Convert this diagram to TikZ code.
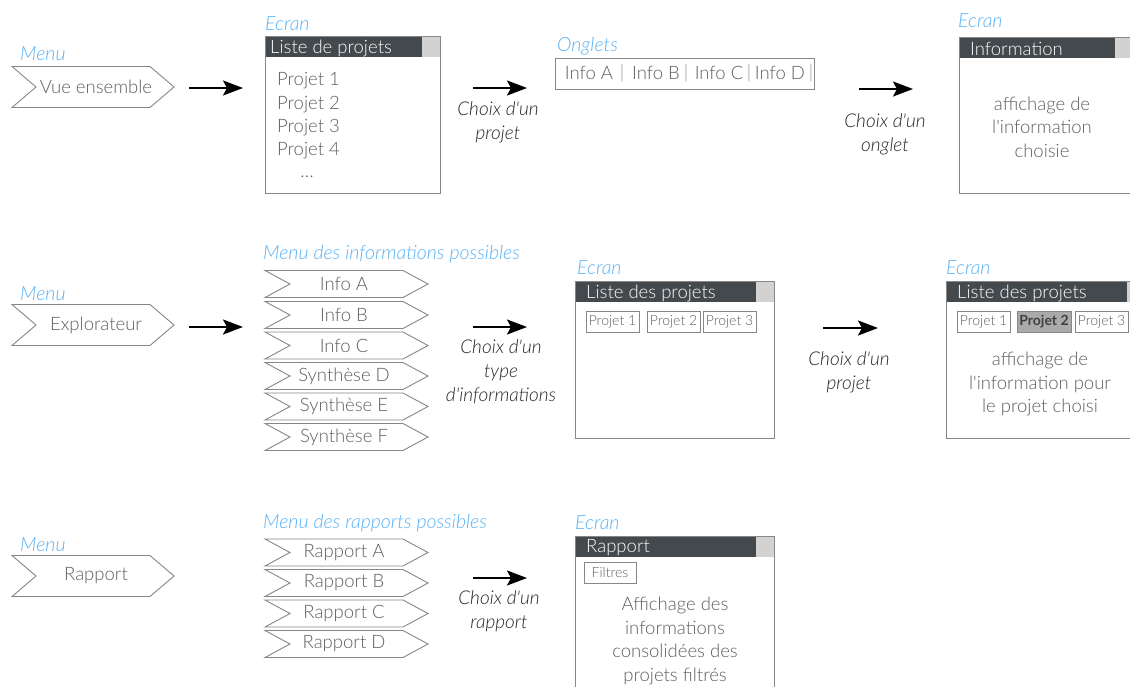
\documentclass[tikz,border=0pt]{standalone}
\usepackage{fontspec}
\setmainfont{Lato}[UprightFont={* Light},ItalicFont={* Light Italic},BoldFont={* Bold}]
\usetikzlibrary{arrows.meta}
\definecolor{bluec}{RGB}{88,178,245}
\definecolor{txtgray}{RGB}{95,95,95}
\definecolor{bordergray}{RGB}{135,135,135}
\definecolor{bardark}{RGB}{67,73,76}
\definecolor{sqgray}{RGB}{210,210,210}
\definecolor{selgray}{RGB}{170,170,170}
\newcommand\apos{\textquotesingle}
\newcommand\chevshape[6]{% left x, tip x, cy, half h, notch, tip depth
  \draw[chev] (#1,{#3-#4}) -- ({#2-#6},{#3-#4}) -- (#2,#3) -- ({#2-#6},{#3+#4}) -- (#1,{#3+#4}) -- ({#1+#5},#3) -- cycle;}
\newcommand\listitem[3]{% name, cy, text
  \chevshape{265}{428}{#2}{13.5}{25}{25}
  \node[lbl] (#1) at (344,#2) {#3};}
\newcommand\screenwin[7]{% name, x1, y1, x2, y2, title, title offset
  \fill[bardark] (#2,#3) rectangle (#4,{#3+21});
  \fill[sqgray] ({#4-18},#3) rectangle (#4,{#3+21});
  \draw[win] (#2,#3) rectangle (#4,#5);
  \node[titlelbl] (#1) at ({#2+#7},{#3+12}) {#6};}
\begin{document}
\begin{tikzpicture}[x=1pt,y=-1pt,
  lbl/.style={font=\fontsize{18.5}{23.5}\selectfont, text=txtgray, inner sep=0pt, align=center},
  bluelbl/.style={font=\fontsize{19.5}{22}\selectfont\itshape, text=bluec, inner sep=0pt, anchor=west},
  titlelbl/.style={font=\fontsize{18.5}{21}\selectfont, text=white, inner sep=0pt, anchor=west},
  choix/.style={font=\fontsize{19}{24}\selectfont\itshape, text=black!85, align=center, inner sep=0pt},
  chev/.style={draw=bordergray, line width=0.9pt, fill=white},
  win/.style={draw=bordergray, line width=1pt},
  flow/.style={-{Stealth[length=20pt,width=15pt,inset=4pt]}, line width=2.2pt},
  btn/.style={draw=bordergray, line width=0.8pt, font=\fontsize{14}{16}\selectfont, text=txtgray, minimum height=21pt, inner xsep=1pt, inner ysep=0pt},
]
\useasboundingbox (0,0) rectangle (1130,686);
\clip (0,0) rectangle (1130,686);
\fill[white] (0,0) rectangle (1130,686);

% ---------- Row 1 ----------
\node[bluelbl] (menu1) at (20,54) {Menu};
\chevshape{12}{174}{87}{20.5}{24}{24}
\node[lbl] (vue) at (96,87) {Vue ensemble};
\coordinate (a1s) at (189,88); \coordinate (a1e) at (243,88);
\draw[flow] (a1s) -- (a1e);

\node[bluelbl] (ecran1) at (265,24) {Ecran};
\screenwin{s1}{265}{36}{440}{193}{Liste de projets}{5}
\node[lbl, anchor=west] (p1) at (277,81) {Projet 1};
\node[lbl, anchor=west] (p2) at (277,105) {Projet 2};
\node[lbl, anchor=west] (p3) at (277,128) {Projet 3};
\node[lbl, anchor=west] (p4) at (277,151) {Projet 4};
\node[lbl] (pdots) at (307,177) {…};

\coordinate (a2s) at (473,88); \coordinate (a2e) at (527,88);
\draw[flow] (a2s) -- (a2e);
\node[choix] (c2) at (498,122) {Choix d\apos un\\projet};

\node[bluelbl] (onglets) at (557,46) {Onglets};
\node[draw=bordergray, line width=1pt, minimum width=259pt, minimum height=31pt, inner sep=0pt] (obox) at (684.5,73.5) {};
\node[lbl] (oa) at (589,73) {Info A};
\node[lbl, text=txtgray!70] (os1) at (622,73) {|};
\node[lbl] (ob) at (656,73) {Info B};
\node[lbl, text=txtgray!70] (os2) at (686,73) {|};
\node[lbl] (oc) at (719,73) {Info C};
\node[lbl, text=txtgray!70] (os3) at (749,73) {|};
\node[lbl] (od) at (780,73) {Info D};
\node[lbl, text=txtgray!70] (os4) at (811,73) {|};

\coordinate (a3s) at (859,89); \coordinate (a3e) at (913,89);
\draw[flow] (a3s) -- (a3e);
\node[choix] (c3) at (885,134) {Choix d\apos un\\onglet};

\node[bluelbl] (ecran2) at (958,21) {Ecran};
\screenwin{s2}{959}{37}{1133}{193}{Information}{11}
\node[lbl] (info) at (1042,127) {affichage de\\l\apos information\\choisie};

% ---------- Row 2 ----------
\node[bluelbl] (menu2) at (20,294) {Menu};
\chevshape{12}{174}{325}{20.5}{24}{24}
\node[lbl] (explo) at (96,325) {Explorateur};
\coordinate (b1s) at (189,327); \coordinate (b1e) at (243,327);
\draw[flow] (b1s) -- (b1e);

\node[bluelbl] (menuinfo) at (263,254) {Menu des informations possibles};
\listitem{ia}{284}{Info A}
\listitem{ib}{315}{Info B}
\listitem{ic}{345.5}{Info C}
\listitem{sd}{376}{Synthèse D}
\listitem{se}{406.5}{Synthèse E}
\listitem{sf}{437}{Synthèse F}

\coordinate (b2s) at (473,327); \coordinate (b2e) at (527,327);
\draw[flow] (b2s) -- (b2e);
\node[choix] (c4) at (501,372) {Choix d\apos un\\type\\d\apos informations};

\node[bluelbl] (ecran3) at (577,268) {Ecran};
\screenwin{s3}{575}{281}{774}{438}{Liste des projets}{11}
\node[btn, minimum width=53pt] (q1) at (612.5,321.5) {Projet 1};
\node[btn, minimum width=53pt] (q2) at (673.5,321.5) {Projet 2};
\node[btn, minimum width=53pt] (q3) at (729.5,321.5) {Projet 3};

\coordinate (b3s) at (823,328); \coordinate (b3e) at (878,328);
\draw[flow] (b3s) -- (b3e);
\node[choix] (c5) at (849,372) {Choix d\apos un\\projet};

\node[bluelbl] (ecran4) at (946,268) {Ecran};
\screenwin{s4}{946}{281}{1145}{438}{Liste des projets}{11}
\node[btn, minimum width=53pt] (r1) at (983.5,321.5) {Projet 1};
\node[btn, minimum width=54pt, fill=selgray, text=black!75, font=\fontsize{14}{16}\selectfont\bfseries] (r2) at (1044,321.5) {Projet 2};
\node[btn, minimum width=53pt] (r3) at (1101.5,321.5) {Projet 3};
\node[lbl] (infoproj) at (1040,384) {affichage de\\l\apos information pour\\le projet choisi};

% ---------- Row 3 ----------
\node[bluelbl] (menu3) at (20,545) {Menu};
\chevshape{12}{174}{576}{20.5}{24}{24}
\node[lbl] (rapport) at (96,576) {Rapport};

\node[bluelbl] (menurap) at (263,523) {Menu des rapports possibles};
\listitem{ra}{552.5}{Rapport A}
\listitem{rb}{583}{Rapport B}
\listitem{rc}{613.5}{Rapport C}
\listitem{rd}{644}{Rapport D}

\coordinate (c1s) at (473,578); \coordinate (c1e) at (527,578);
\draw[flow] (c1s) -- (c1e);
\node[choix] (c6) at (499,611) {Choix d\apos un\\rapport};

\node[bluelbl] (ecran5) at (575,523) {Ecran};
\screenwin{s5}{575}{536}{774}{700}{Rapport}{11}
\node[btn, minimum width=52pt] (filtres) at (610,572.5) {Filtres};
\node[lbl] (consol) at (675,641) {Affichage des\\informations\\consolidées des\\projets filtrés};
\end{tikzpicture}
\end{document}
